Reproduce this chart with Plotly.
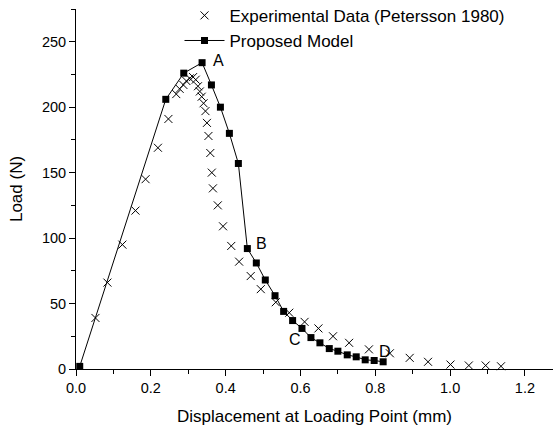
import plotly.graph_objects as go

# Experimental data (Petersson 1980)
exp_x = [0.052, 0.084, 0.124, 0.159, 0.186, 0.219, 0.247, 0.268, 0.277, 0.287, 0.295,
         0.304, 0.313, 0.320, 0.326, 0.331, 0.336, 0.341, 0.346, 0.350, 0.354, 0.359,
         0.363, 0.366, 0.379, 0.393, 0.415, 0.436, 0.467, 0.494, 0.534, 0.570, 0.611,
         0.648, 0.687, 0.730, 0.783, 0.839, 0.892, 0.941, 1.001, 1.050, 1.095, 1.136]
exp_y = [39, 66, 95, 121, 145, 169, 191, 210, 214, 217, 220,
         222, 223, 221, 216, 212, 208, 203, 197, 188, 178, 165,
         150, 138, 125, 109, 94, 82, 71, 61, 51, 43, 36,
         31, 25, 20, 15, 12, 8.5, 5.5, 3.4, 2.7, 2.7, 2.1]

# Proposed model
mod_x = [0.01, 0.240, 0.288, 0.337, 0.362, 0.386, 0.410, 0.434, 0.458, 0.482, 0.506,
         0.532, 0.555, 0.579, 0.604, 0.628, 0.652, 0.677, 0.700, 0.725, 0.749, 0.773,
         0.797, 0.821]
mod_y = [2, 206, 226, 234, 217, 200, 180, 157, 92, 81, 68,
         56, 44, 37, 31, 24, 20, 15.6, 13.6, 10.8, 9.3, 7,
         6.5, 5.5]

# Point labels and the model point each refers to
point_labels = ["A", "B", "C", "D"]
point_index = [3, 8, 14, 23]
label_shift = [(16, 2), (14, 5), (-7, -11), (2, 10)]

FONT = "Arial, Liberation Sans, sans-serif"

fig = go.Figure()
fig.add_trace(go.Scatter(
    x=exp_x, y=exp_y, mode="markers", name="Experimental Data (Petersson 1980)",
    marker=dict(symbol="x-thin", size=8, color="black", line=dict(width=1, color="black")),
    cliponaxis=False,
))
fig.add_trace(go.Scatter(
    x=mod_x, y=mod_y, mode="lines+markers", name="Proposed Model",
    line=dict(color="black", width=1),
    marker=dict(symbol="square", size=7, color="black"),
    cliponaxis=False,
))

for lab, idx, (dx, dy) in zip(point_labels, point_index, label_shift):
    fig.add_annotation(x=mod_x[idx], y=mod_y[idx], text=lab, showarrow=False,
                       xshift=dx, yshift=dy, font=dict(size=16, color="black", family=FONT))

axis_common = dict(
    showline=True, linecolor="black", linewidth=1, ticks="outside", ticklen=6,
    tickwidth=1, tickcolor="black", showgrid=False, zeroline=False, mirror=False,
    automargin=False,
    tickfont=dict(size=14.5, color="black", family=FONT),
)

fig.update_xaxes(range=[0, 1.275], dtick=0.2, tick0=0, tickformat=".1f",
                 minor=dict(dtick=0.1, ticks="outside", ticklen=4, tickcolor="black", showgrid=False),
                 title=dict(text="Displacement at Loading Point (mm)",
                            font=dict(size=17, color="black", family=FONT), standoff=14),
                 **axis_common)
fig.update_yaxes(range=[0, 275], dtick=50, tick0=0,
                 minor=dict(dtick=25, ticks="outside", ticklen=4, tickcolor="black", showgrid=False),
                 title=dict(text="Load (N)", font=dict(size=17, color="black", family=FONT), standoff=14),
                 **axis_common)

fig.update_layout(
    width=554, height=430,
    margin=dict(l=76, r=1, t=9, b=61, autoexpand=False),
    paper_bgcolor="white", plot_bgcolor="white",
    showlegend=True,
    legend=dict(x=0.217, y=1.031, xanchor="left", yanchor="top",
                bgcolor="rgba(0,0,0,0)", font=dict(size=17, color="black", family=FONT),
                tracegroupgap=0, itemwidth=40),
    font=dict(family=FONT, color="black"),
)

fig.write_html("out.html", config={"displayModeBar": False},
               post_script="document.body.style.margin='0';")
